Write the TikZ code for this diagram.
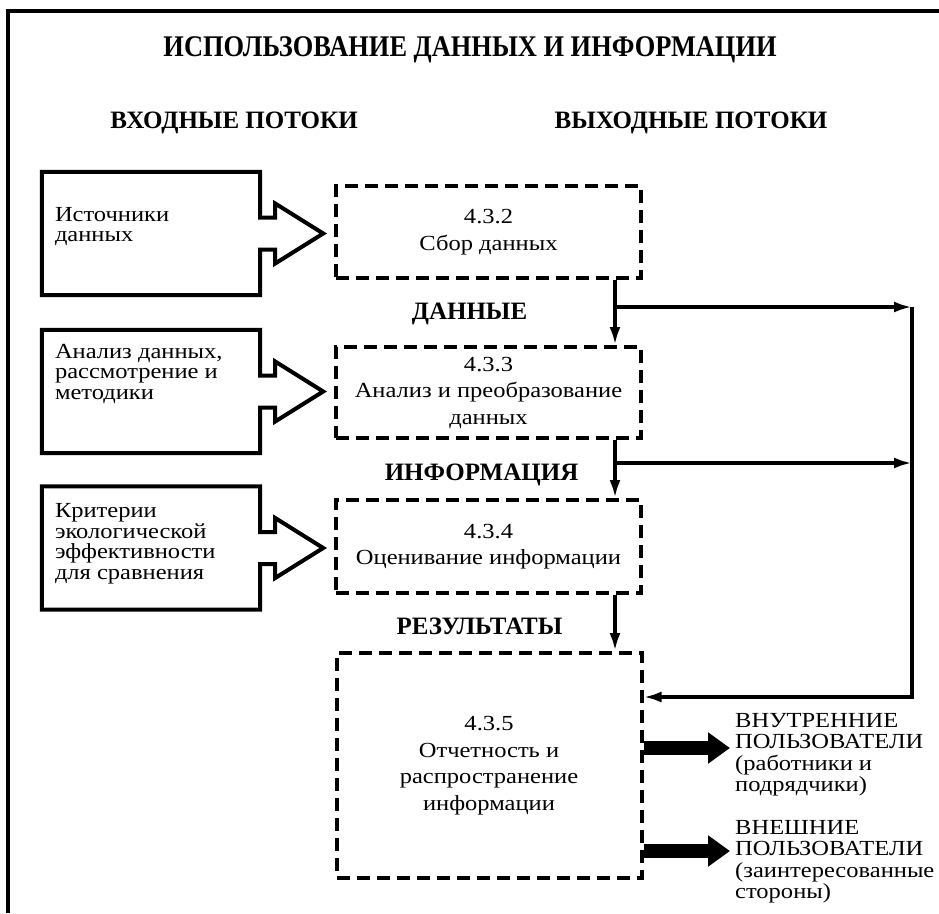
\documentclass[tikz,border=0pt]{standalone}
\usepackage{fontspec}
\setmainfont{Liberation Serif}
\newfontfamily\narrowbold[FakeStretch=0.88]{Liberation Serif Bold}
\newfontfamily\widefont[FakeStretch=1.14]{Liberation Serif}
\usetikzlibrary{calc,positioning,arrows.meta}
\tikzset{
  frame/.style={line width=3.5pt}, % outer frame, left and top only
  srcbox/.style={ % input box, its outline is drawn together with its arrow
    rectangle, minimum width=218pt, minimum height=123pt, inner sep=0pt
  },
  srctext/.style={
    anchor=north west, inner sep=0pt, align=left,
    font=\widefont\fontsize{21.5}{20.7}\selectfont
  },
  process/.style={ % dashed box of one step
    draw, rectangle, line width=4pt, dash pattern=on 13pt off 7pt,
    minimum width=305pt, inner sep=0pt, align=center,
    font=\widefont\fontsize{21.5}{26.5}\selectfont
  },
  heading/.style={anchor=base, font=\bfseries\fontsize{25}{30}\selectfont},
  user/.style={
    anchor=north west, inner sep=0pt, align=left,
    font=\widefont\fontsize{21.5}{21.5}\selectfont
  },
  flow/.style={line width=3.5pt, -{Latex[length=18pt,width=11pt]}},
  bigarrow/.style={line width=14pt, -{Triangle[length=22pt,width=30pt]}}
}
% outline of an input box merged with its broad arrow
\newcommand{\inflow}[1]{%
  \draw[line width=4pt, line join=miter]
    ($(#1.east)+(0,-16)$) -- (#1.north east) -- (#1.north west)
    -- (#1.south west) -- (#1.south east) -- ($(#1.east)+(0,16)$)
    -- ++(15,0) -- ++(0,14) -- ($(#1.east)+(63,0)$)
    -- ($(#1.east)+(15,-30)$) -- ++(0,14) -- cycle;
}

\begin{document}
\begin{tikzpicture}[x=1pt, y=-1pt]
  \useasboundingbox (0,0) rectangle (939,913);
  \draw[frame] (8,913) -- (8,11) -- (939,11);

  \node[heading, font=\narrowbold\fontsize{30}{34}\selectfont] (title) at (470,56) {ИСПОЛЬЗОВАНИЕ ДАННЫХ И ИНФОРМАЦИИ};
  \node[heading] (in_head) at (234,128) {ВХОДНЫЕ ПОТОКИ};
  \node[heading] (out_head) at (691,128) {ВЫХОДНЫЕ ПОТОКИ};

  % input boxes
  \node[srcbox] (src1) at (151,233.5) {};
  \node[srcbox] (src2) at (151,391.5) {};
  \node[srcbox] (src3) at (151,548) {};
  \inflow{src1}
  \inflow{src2}
  \inflow{src3}
  \node[srctext] (src1_text) at ($(src1.north west)+(13,35)$) {Источники\\данных};
  \node[srctext] (src2_text) at ($(src2.north west)+(13,14)$) {Анализ данных,\\рассмотрение и\\методики};
  \node[srctext] (src3_text) at ($(src3.north west)+(13,17)$) {Критерии\\экологической\\эффективности\\для сравнения};

  % steps
  \node[process, minimum height=92pt] (p1) at (488.5,232) {4.3.2\\Сбор данных};
  \node[process, minimum height=91pt] (p2) at (488.5,392.5) {4.3.3\\Анализ и преобразование\\данных};
  \node[process, minimum height=93pt] (p3) at (488.5,546.5) {4.3.4\\Оценивание информации};
  \node[process, minimum height=225pt] (p4) at (489,765.5) {4.3.5\\Отчетность и\\распространение\\информации};

  \node[heading] (data_label) at ($(p1.south)+(-19,39)$) {ДАННЫЕ};
  \node[heading] (info_label) at ($(p2.south)+(-7,40)$) {ИНФОРМАЦИЯ};
  \node[heading] (res_label) at ($(p3.south)+(-9,39)$) {РЕЗУЛЬТАТЫ};

  \coordinate (ax) at (615,0);
  \coordinate (bus1) at (912,307);
  \coordinate (bus2) at (912,463);
  \coordinate (bus3) at (912,697);

  \draw[flow] (p1.south -| ax) -- (p2.north -| ax);
  \draw[flow] (p2.south -| ax) -- (p3.north -| ax);
  \draw[flow] (p3.south -| ax) -- (p4.north -| ax);
  \draw[flow] (ax |- bus1) -- (bus1);
  \draw[flow] (ax |- bus2) -- (bus2);
  \draw[flow] (bus1) -- (bus3) -- (p4.east |- bus3);

  % users
  \node[user] (in_users) at (735,713) {ВНУТРЕННИЕ\\ПОЛЬЗОВАТЕЛИ\\(работники и\\подрядчики)};
  \node[user] (ex_users) at (735,820) {ВНЕШНИЕ\\ПОЛЬЗОВАТЕЛИ\\(заинтересованные\\стороны)};
  \coordinate (in_tip) at ($(in_users.north west)+(-5,35)$);
  \coordinate (ex_tip) at ($(ex_users.north west)+(-5,31)$);
  \draw[bigarrow] (p4.east |- in_tip) -- (in_tip);
  \draw[bigarrow] (p4.east |- ex_tip) -- (ex_tip);
\end{tikzpicture}
\end{document}
